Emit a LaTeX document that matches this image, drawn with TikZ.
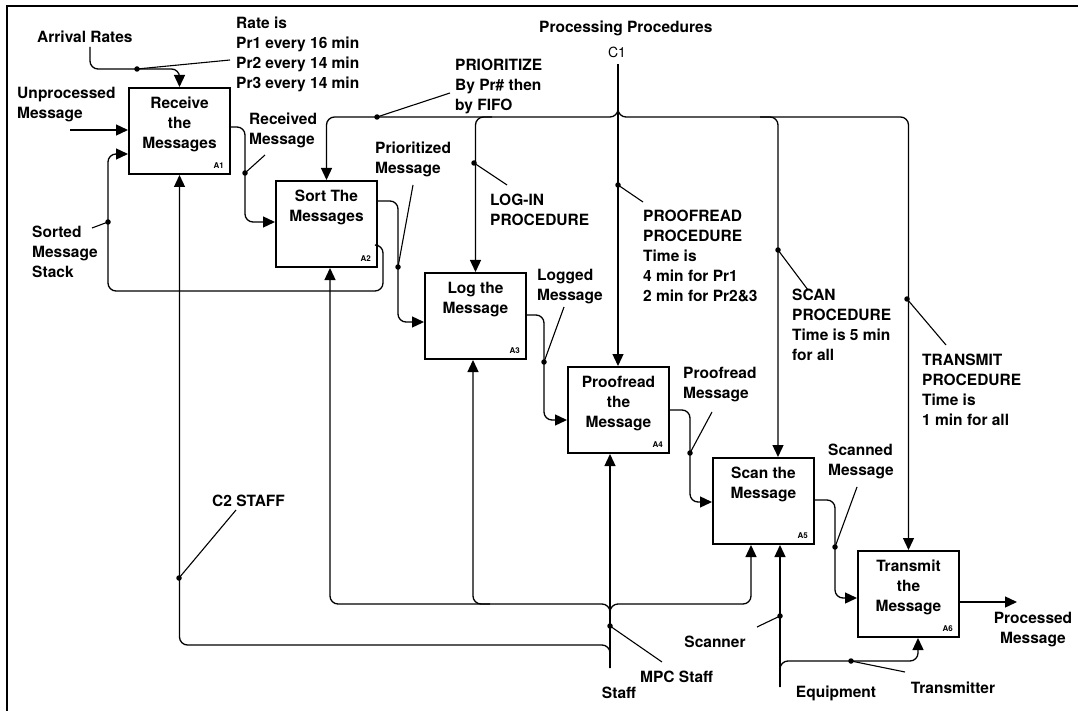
\documentclass[tikz,border=0pt]{standalone}
\usepackage{fontspec}
\setmainfont{TeX Gyre Heros}
\usetikzlibrary{arrows.meta}
\tikzset{
  txt/.style={font=\fontsize{15.5}{20}\selectfont\bfseries, inner sep=0pt, align=left},
  boxtxt/.style={font=\fontsize{15.5}{20}\selectfont\bfseries, inner sep=0pt, align=center, anchor=north, yshift=-10pt},
  idlbl/.style={font=\fontsize{8}{9}\selectfont\bfseries, inner sep=0pt, anchor=south east, xshift=-7pt, yshift=6pt},
  actbox/.style={draw, line width=2pt, minimum width=101pt, minimum height=86pt, inner sep=0pt, anchor=north west},
  flow/.style={line width=1.3pt, rounded corners=8pt, -{Triangle[length=12pt,width=11pt]}},
  ln/.style={line width=1.3pt, rounded corners=8pt},
  lead/.style={line width=1.1pt},
  dot/.style={circle, fill, inner sep=0pt, minimum size=5.5pt},
}
\begin{document}
\begin{tikzpicture}[x=1pt,y=-1pt]
\useasboundingbox (0,0) rectangle (1078,711);
% frame
\draw[line width=1.8pt] (7,711) -- (7,6) -- (1078,6);

% activity boxes
\node[actbox, label={[boxtxt]north:Receive\\the\\Messages}, label={[idlbl]south east:A1}] (A1) at (128,87) {};
\node[actbox, label={[boxtxt]north:Sort The\\Messages}, label={[idlbl]south east:A2}] (A2) at (275,180) {};
\node[actbox, label={[boxtxt]north:Log the\\Message}, label={[idlbl]south east:A3}] (A3) at (424,272) {};
\node[actbox, label={[boxtxt]north:Proofread\\the\\Message}, label={[idlbl]south east:A4}] (A4) at (567,366) {};
\node[actbox, label={[boxtxt]north:Scan the\\Message}, label={[idlbl]south east:A5}] (A5) at (712,457) {};
\node[actbox, label={[boxtxt]north:Transmit\\the\\Message}, label={[idlbl]south east:A6}] (A6) at (857,550) {};

% texts
\node[txt, anchor=west] (tArr) at (37,37) {Arrival Rates};
\node[txt, anchor=north west] (tRate) at (236,17) {Rate is\\Pr1 every 16 min\\Pr2 every 14 min\\Pr3 every 14 min};
\node[txt, anchor=north west] (tUnp) at (17,87) {Unprocessed\\Message};
\node[txt, anchor=north west] (tSorted) at (32,226) {Sorted\\Message\\Stack};
\node[txt, anchor=north west] (tRecv) at (249,113) {Received\\Message};
\node[txt, anchor=west] (tProc) at (539,28) {Processing Procedures};
\node[font=\fontsize{14}{16}\selectfont, inner sep=0pt] (tC1) at (617,52) {C1};
\node[txt, anchor=north west] (tPrio) at (455,59) {PRIORITIZE\\By Pr\# then\\by FIFO};
\node[txt, anchor=north west] (tPrior) at (375,142) {Prioritized\\Message};
\node[txt, anchor=north west] (tLogin) at (490,194) {LOG-IN\\PROCEDURE};
\node[txt, anchor=north west] (tLogged) at (537,269) {Logged\\Message};
\node[txt, anchor=north west] (tProof) at (643,210) {PROOFREAD\\PROCEDURE\\Time is\\4 min for Pr1\\2 min for Pr2\&3};
\node[txt, anchor=north west] (tScan) at (792,289) {SCAN\\PROCEDURE\\Time is 5 min\\for all};
\node[txt, anchor=north west] (tTrans) at (922,354) {TRANSMIT\\PROCEDURE\\Time is\\1 min for all};
\node[txt, anchor=north west] (tProofMsg) at (683,367) {Proofread\\Message};
\node[txt, anchor=north west] (tScanned) at (828,444) {Scanned\\Message};
\node[txt, anchor=north, align=center] (tProcessed) at (1033,612) {Processed\\Message};
\node[txt, anchor=west] (tC2) at (212,501) {C2 STAFF};
\node[txt, anchor=west] (tMPC) at (640,677) {MPC Staff};
\node[txt] (tStaff) at (619,693) {Staff};
\node[txt] (tScanner) at (715,642) {Scanner};
\node[txt] (tEquip) at (836,693) {Equipment};
\node[txt] (tTransm) at (953,688) {Transmitter};

% free ends
\coordinate (arrS) at (90,47);
\coordinate (unpS) at (70,130);
\coordinate (c1) at (618,64);
\coordinate (outE) at (1017,602);
\coordinate (staff) at (610,668);
\coordinate (equip) at (780,687);

% inputs / outputs
\draw[flow] (arrS) -- (90,69) -- (A1.north |- 0,69) -- (A1.north);
\draw[flow] (unpS) -- (A1.west |- 0,130);
\draw[flow] (A2.east |- 0,245) -- (383,245) -- (383,291) -- (108,291) -- (108,154) -- (A1.west |- 0,154);
\draw[flow] (A1.east |- 0,127) -- (245,127) -- (245,222) -- (A2.west |- 0,222);
\draw[flow] (A2.east |- 0,201) -- (398,201) -- (398,322) -- (A3.west |- 0,322);
\draw[flow] (A3.east |- 0,315) -- (544,315) -- (544,420) -- (A4.west |- 0,420);
\draw[flow] (A4.east |- 0,410) -- (690,410) -- (690,502) -- (A5.west |- 0,502);
\draw[flow] (A5.east |- 0,500) -- (835,500) -- (835,598) -- (A6.west |- 0,598);
\draw[flow] (A6.east |- 0,602) -- (outE);

% controls
\draw[flow] (c1) -- (c1 |- A4.north);
\draw[flow] (618,100) -- (618,117) -- (A2.north |- 0,117) -- (A2.north);
\draw[flow] (618,100) -- (618,117) -- (A6.north |- 0,117) -- (A6.north);
\draw[flow] (492,117) -- (A3.north |- 0,117) -- (A3.north);
\draw[flow] (760,117) -- (778,117) -- (A5.north -| 778,0);

% mechanisms
\draw[flow] (staff) -- (staff |- A4.south);
\draw[flow] (610,622) -- (610,604) -- (330,604) -- (A2.south -| 330,0);
\draw[flow] (610,622) -- (610,604) -- (751,604) -- (A5.south -| 751,0);
\draw[flow] (490,604) -- (473,604) -- (A3.south -| 473,0);
\draw[flow] (staff) -- (610,645) -- (A1.south |- 0,645) -- (A1.south);
\draw[flow] (equip) -- (A5.south -| 780,0);
\draw[flow] (equip) -- (780,661) -- (918,661) -- (A6.south -| 918,0);

% dots and leaders
\node[dot] (dArr) at (137,69) {};
\draw[lead] (dArr.center) -- (230,60);
\node[dot] (dRecv) at (245,173) {};
\draw[lead] (dRecv.center) -- (265,155);
\node[dot] (dSorted) at (108,222) {};
\draw[lead] (dSorted.center) -- (92,228);
\node[dot] (dPrior) at (398,267) {};
\draw[lead] (dPrior.center) -- (413,185);
\node[dot] (dLogged) at (544,362) {};
\draw[lead] (dLogged.center) -- (564,307);
\node[dot] (dProofMsg) at (690,453) {};
\draw[lead] (dProofMsg.center) -- (712,412);
\node[dot] (dScanned) at (835,547) {};
\draw[lead] (dScanned.center) -- (857,487);
\node[dot] (dPrio) at (377,117) {};
\draw[lead] (dPrio.center) -- (450,93);
\node[dot] (dLogin) at (474,163) {};
\draw[lead] (dLogin.center) -- (507,185);
\node[dot] (dProof) at (618,185) {};
\draw[lead] (dProof.center) -- (643,202);
\node[dot] (dScan) at (778,250) {};
\draw[lead] (dScan.center) -- (808,290);
\node[dot] (dTrans) at (907,299) {};
\draw[lead] (dTrans.center) -- (946,345);
\node[dot] (dC2) at (179,578) {};
\draw[lead] (dC2.center) -- (236,510);
\node[dot] (dMPC) at (610,626) {};
\draw[lead] (dMPC.center) -- (662,662);
\node[dot] (dScanner) at (780,616) {};
\draw[lead] (dScanner.center) -- (757,627);
\node[dot] (dTransm) at (851,661) {};
\draw[lead] (dTransm.center) -- (905,672);
\end{tikzpicture}
\end{document}
